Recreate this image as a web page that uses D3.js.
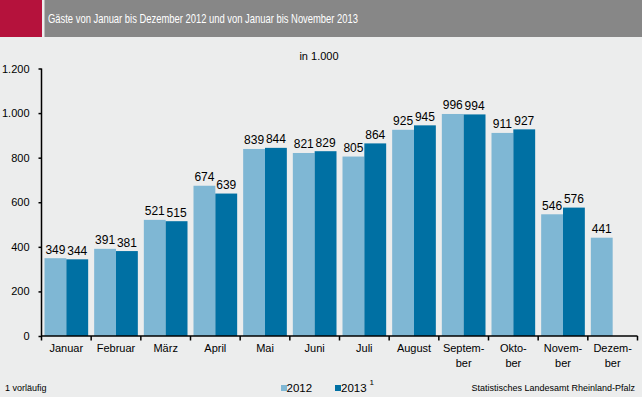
<!DOCTYPE html>
<html><head><meta charset="utf-8">
<script src="https://cdn.jsdelivr.net/npm/d3@7"></script>
<style>
html,body{margin:0;padding:0;background:#ECEDED;}
svg{display:block;font-family:"Liberation Sans",Arial,sans-serif;}
</style></head>
<body>
<svg id="c" width="642" height="397"></svg>
<script>
const categories = ["Januar","Februar","März","April","Mai","Juni","Juli","August","Septem-|ber","Okto-|ber","Novem-|ber","Dezem-|ber"];
const values2012 = [349,391,521,674,839,821,805,925,996,911,546,441];
const values2013 = [344,381,515,639,844,829,864,945,994,927,576,null];
const yTicks = [0,200,400,600,800,1000,1200];
const seriesNames = ["2012","2013"];
const colors = ["#7FB7D4","#0070A3"];

const svg = d3.select("#c");
svg.append("rect").attr("x",0).attr("y",0).attr("width",642).attr("height",397).attr("fill","#ECEDED");
// title bar
svg.append("rect").attr("x",0).attr("y",0).attr("width",42).attr("height",37).attr("fill","#B5123C");
svg.append("rect").attr("x",44.5).attr("y",0).attr("width",597.5).attr("height",37).attr("fill","#878787");
svg.append("text").attr("x",48).attr("y",22.5).attr("fill","#fff").attr("font-size",13)
  .attr("textLength",310).attr("lengthAdjust","spacingAndGlyphs")
  .text("Gäste von Januar bis Dezember 2012 und von Januar bis November 2013");

svg.append("text").attr("x",319).attr("y",60).attr("text-anchor","middle").attr("font-size",11).attr("fill","#000").text("in 1.000");

const x0 = d3.scaleBand().domain(categories).range([41.5,637.5]).padding(0);
const x1 = d3.scaleBand().domain(seriesNames).range([3, x0.bandwidth()-3]).padding(0);
const y = d3.scaleLinear().domain([0,1200]).range([336,68.5]);

const fmt = d3.formatLocale({decimal:",",thousands:".",grouping:[3]}).format(",d");

// y axis
const yAxis = svg.append("g").attr("transform","translate(41.5,0)")
  .call(d3.axisLeft(y).tickValues(yTicks).tickSize(3).tickFormat(fmt));
yAxis.select(".domain").attr("stroke","#000").attr("stroke-width",1.5).attr("d","M0,68.5V336");
yAxis.selectAll(".tick line").attr("stroke","#000").attr("stroke-width",1.5);
yAxis.selectAll(".tick text").attr("font-size",11).attr("fill","#000").attr("x",-12)
  .attr("font-family","Liberation Sans, Arial, sans-serif");

// bars
const data = categories.map((c,i)=>({c, v:[values2012[i],values2013[i]]}));
const g = svg.append("g");
data.forEach(d=>{
  d.v.forEach((v,j)=>{
    if(v==null) return;
    const bx = x0(d.c)+x1(seriesNames[j]);
    g.append("rect").attr("x",bx).attr("y",y(v)).attr("width",x1.bandwidth()).attr("height",y(0)-y(v)).attr("fill",colors[j]);
    g.append("text").attr("x",bx+x1.bandwidth()/2).attr("y",y(v)-4.5).attr("text-anchor","middle")
      .attr("font-size",12).attr("fill","#000").text(v);
  });
});

// x axis
const xAxis = svg.append("g").attr("transform","translate(0,336)")
  .call(d3.axisBottom(x0).tickSize(0).tickFormat(""));
xAxis.select(".domain").attr("stroke","#000").attr("stroke-width",1.5).attr("d","M41.5,0H637.5");
const bounds = categories.map(c=>x0(c)).concat([x0.range()[1]]);
bounds.forEach(b=>{
  svg.append("line").attr("x1",b).attr("x2",b).attr("y1",336).attr("y2",340.5).attr("stroke","#000").attr("stroke-width",1.5);
});
categories.forEach(c=>{
  const parts = c.split("|");
  const t = svg.append("text").attr("text-anchor","middle").attr("font-size",11).attr("fill","#000");
  parts.forEach((p,k)=>{
    t.append("tspan").attr("x",x0(c)+x0.bandwidth()/2).attr("y",352+k*14.5).text(p);
  });
});

// footer
svg.append("text").attr("x",5).attr("y",391).attr("font-size",9).attr("fill","#000").text("1 vorläufig");
svg.append("rect").attr("x",281).attr("y",385).attr("width",6).attr("height",6).attr("fill",colors[0]);
svg.append("text").attr("x",286.5).attr("y",392).attr("font-size",11.5).attr("fill","#000").text(seriesNames[0]);
svg.append("rect").attr("x",335).attr("y",385).attr("width",6).attr("height",6).attr("fill",colors[1]);
svg.append("text").attr("x",341).attr("y",392).attr("font-size",11.5).attr("fill","#000").text(seriesNames[1]);
svg.append("text").attr("x",369.5).attr("y",385).attr("font-size",8).attr("fill","#000").text("1");
svg.append("text").attr("x",635).attr("y",391).attr("text-anchor","end").attr("font-size",9).attr("fill","#000")
  .text("Statistisches Landesamt Rheinland-Pfalz");
</script>
</body></html>
